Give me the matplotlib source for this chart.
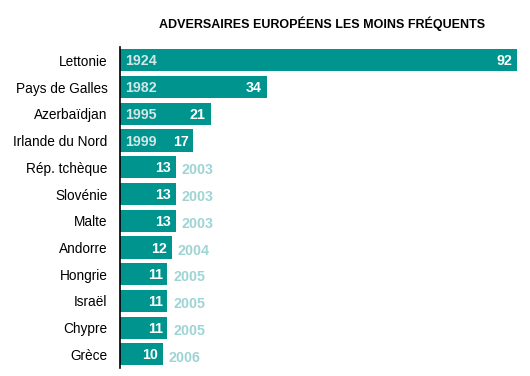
import matplotlib
matplotlib.use("Agg")
import matplotlib.pyplot as plt

plt.rcParams["font.family"] = ["Liberation Sans", "DejaVu Sans"]

pays = ["Lettonie", "Pays de Galles", "Azerbaïdjan", "Irlande du Nord", "Rép. tchèque",
        "Slovénie", "Malte", "Andorre", "Hongrie", "Israël", "Chypre", "Grèce"]
annees = [1924, 1982, 1995, 1999, 2003, 2003, 2003, 2004, 2005, 2005, 2005, 2006]
valeurs = [92, 34, 21, 17, 13, 13, 13, 12, 11, 11, 11, 10]

teal = "#00948f"

fig = plt.figure(figsize=(5.3, 3.76), dpi=100)
ax = fig.add_axes([0.2264, 0.022, 0.7491, 0.853])

y = list(range(len(pays)))
ax.barh(y, valeurs, height=0.83, color=teal)
ax.set_xlim(0, 92)
ax.set_ylim(len(pays) - 0.5, -0.5)

for i, (v, a) in enumerate(zip(valeurs, annees)):
    ax.text(v - 1.1, i + 0.04, str(v), ha="right", va="center", color="white",
            fontsize=10.3, fontweight="bold")
    if v >= 17:
        ax.text(1.1, i + 0.04, str(a), ha="left", va="center", color="#d2e6e6",
                fontsize=10.3, fontweight="bold")
    else:
        ax.text(v + 1.3, i + 0.12, str(a), ha="left", va="center", color="#9fd4d4",
                fontsize=10.3, fontweight="bold")

ax.set_yticks(y)
ax.set_yticklabels(pays, fontsize=9.8)
ax.tick_params(axis="y", length=0, pad=9)
ax.set_xticks([])
for s in ["top", "right", "bottom"]:
    ax.spines[s].set_visible(False)
ax.spines["left"].set_linewidth(1.2)

fig.text(0.607, 0.937, "ADVERSAIRES EUROPÉENS LES MOINS FRÉQUENTS", ha="center",
         va="center", fontsize=9, fontweight="bold")

fig.savefig("out.png", dpi=100)
plt.close()
